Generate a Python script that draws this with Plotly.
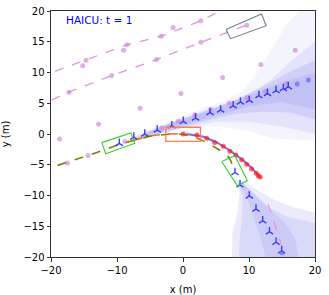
import plotly.graph_objects as go

# ---------------- data ----------------
# prediction fan (upper) layers: polygon x / y
fan_up_outer_x = [-8, -3, 2, 6, 9, 11, 13, 15.5, 17.5, 20, 20, 16, 13.5, 10, 6, 2, -2, -6, -8]
fan_up_outer_y = [-0.6, 1.6, 3.8, 5.3, 7, 9.5, 13, 17.5, 20, 20, -1.1, -0.9, -0.7, 0.5, 1.1, 1.3, 0.4, -0.8, -1.4]
fan_up_mid_x = [-8, -2, 3, 7, 10, 13, 16, 20, 20, 15, 10, 5, 0, -5, -8]
fan_up_mid_y = [-0.7, 1.7, 3.8, 5.2, 6.5, 8.5, 11.5, 15, 0, 1.2, 2, 2, 1.0, -0.3, -1.3]
fan_up_dense_x = [-7, -2, 3, 8, 12, 16, 20, 20, 16, 12, 8, 4, 0, -4, -7]
fan_up_dense_y = [-0.5, 1.7, 3.5, 5.5, 7.7, 10, 12, 2.4, 3.5, 3.6, 3.3, 2.3, 1.1, -0.2, -1.0]
fan_up_core_x = [-6, 0, 5, 10, 15, 20, 20, 15, 10, 5, 0, -6]
fan_up_core_y = [0.2, 2.5, 4.2, 6.2, 8.4, 10, 4, 5.2, 4.5, 3, 1.5, -0.4]

# prediction fan (lower) layers
fan_lo_outer_x = [7.8, 8.6, 8.3, 7.5, 7.4, 20, 20, 17, 14, 11, 9]
fan_lo_outer_y = [-7.5, -9.5, -12.5, -16, -20, -20, -12.8, -12, -10.8, -9, -7.5]
fan_lo_mid_x = [8.3, 9.0, 9.0, 8.6, 8.5, 20, 20, 16, 13, 11, 9.2]
fan_lo_mid_y = [-8, -10, -13, -17, -20, -20, -14.5, -13.5, -12, -10, -8]
fan_lo_core_x = [8.5, 9.8, 10.5, 11.5, 12.5, 17.5, 17, 15.5, 13, 10.5, 9]
fan_lo_core_y = [-8.3, -10.5, -13, -16, -20, -20, -17, -14.5, -12, -9.5, -8]

# other agents' dashed tracks
track1_x = [-19.4, -14.7, -8.5, -3.3, 2.7, 5.6]
track1_y = [10.2, 12.0, 14.5, 15.9, 18.4, 20]
track2_x = [-19.9, -17.3, -10.8, -4.0, 2.7, 9.65]
track2_y = [5.55, 6.8, 9.5, 12.1, 14.9, 17.7]
track3_x = [12.9, 13.9, 15.45]
track3_y = [-11.4, -14.7, -19.8]

# observed agent dots
dots_x = [-15.2, -14.7, -9.0, -8.5, -3.3, -1.5, 2.7,
          -17.3, -10.8, -4.0, 2.7, 9.65,
          -18.7, -12.8, -6.5, -0.3, 6.0, 11.8, 17.0,
          -3.2, -0.7, 1.8, 4.2, 7.0, 9.65, 12.5, 15.7,
          -17.5, -14.4, -8.8]
dots_y = [11.1, 12.0, 13.6, 14.5, 15.9, 17.3, 18.4,
          6.8, 9.5, 12.1, 14.9, 17.7,
          -0.8, 1.6, 4.2, 6.6, 9.2, 11.3, 13.6,
          0.98, 2.06, 3.1, 3.96, 5.0, 5.9, 6.95, 8.15,
          -4.7, -3.5, -1.2]

# histories
olive_x = [-19, -17.5, -14.4, -11.5, -9.7, -7.4, -5, -2, 0, 2, 3.8, 5.5, 6.8, 7.3, 7.7]
olive_y = [-5.1, -4.6, -3.5, -2.4, -1.7, -1.0, -0.35, 0.0, -0.05, -0.6, -1.5, -2.6, -3.6, -4.5, -6.0]
orange_x = [-7.5, -5, -2.5, 0]
orange_y = [-1.0, -0.3, 0.0, 0.05]

# ego plan and ground truth
plan_x = [0.5, 3, 5, 7, 9, 10.5, 11.7]
plan_y = [0, -0.4, -1.3, -2.6, -4.2, -5.6, -7.1]
ego_x = [0.05, 2.1, 3.6, 4.8, 6.1, 7.1, 8.0, 8.9, 9.65, 10.4, 11.1, 11.4, 11.7]
ego_y = [0, -0.16, -0.7, -1.4, -2.0, -2.8, -3.4, -4.2, -4.9, -5.7, -6.4, -6.8, -7.0]

# predicted agent positions
pred_up_x = [-9.65, -7.45, -5.8, -3.9, -1.7, 0.05, 1.9, 4.1, 5.7, 7.6, 8.7, 10.05, 11.5, 12.8, 14.1, 15.2, 15.95]
pred_up_y = [-1.53, -0.5, 0.0, 0.65, 1.35, 2.06, 2.6, 3.5, 3.9, 4.6, 5.2, 5.5, 6.25, 6.6, 7.06, 7.4, 7.7]
pred_lo_x = [7.88, 8.64, 10.05, 11.06, 12.07, 13.1, 14.1, 14.95]
pred_lo_y = [-6.26, -8.27, -10.07, -12.2, -14.1, -15.9, -17.6, -19.0]
blue_dot_x = [17.3, 19.0, 15.0]
blue_dot_y = [8.15, 8.8, -19.3]

# boxes (closed corner lists)
ego_box_x = [-2.6, 2.65, 2.65, -2.6, -2.6]
ego_box_y = [1.1, 1.1, -1.2, -1.2, 1.1]
green1_x = [-12.3, -7.9, -7.3, -11.7, -12.3]
green1_y = [-1.4, 0.16, -1.5, -3.2, -1.4]
green2_x = [5.86, 7.88, 9.74, 8.23, 5.86]
green2_y = [-4.47, -3.54, -7.6, -8.43, -4.47]
gray_x = [6.5, 11.9, 12.6, 7.2, 6.5]
gray_y = [17.0, 19.5, 17.6, 15.5, 17.0]

x_ticks = [-20, -10, 0, 10, 20]
y_ticks = [-20, -15, -10, -5, 0, 5, 10, 15, 20]

# ---------------- figure ----------------
fig = go.Figure()

def poly(xs, ys, alpha):
    fig.add_trace(go.Scatter(x=xs + [xs[0]], y=ys + [ys[0]], mode="lines", fill="toself",
                             fillcolor=f"rgba(110,110,235,{alpha})", line=dict(width=0),
                             hoverinfo="skip", showlegend=False))

poly(fan_up_outer_x, fan_up_outer_y, 0.08)
poly(fan_up_mid_x, fan_up_mid_y, 0.12)
poly(fan_up_dense_x, fan_up_dense_y, 0.17)
poly(fan_up_core_x, fan_up_core_y, 0.14)
poly(fan_lo_outer_x, fan_lo_outer_y, 0.14)
poly(fan_lo_mid_x, fan_lo_mid_y, 0.14)
poly(fan_lo_core_x, fan_lo_core_y, 0.12)

def line(xs, ys, color, width, dash="solid"):
    fig.add_trace(go.Scatter(x=xs, y=ys, mode="lines", line=dict(color=color, width=width, dash=dash),
                             showlegend=False, hoverinfo="skip"))

line(track1_x, track1_y, "rgba(220,140,220,0.9)", 1.3, "dash")
line(track2_x, track2_y, "rgba(220,140,220,0.9)", 1.3, "dash")
line(track3_x, track3_y, "rgba(240,140,200,0.85)", 1.3, "dash")

fig.add_trace(go.Scatter(x=dots_x, y=dots_y, mode="markers",
                         marker=dict(color="rgba(205,130,215,0.65)", size=5, line=dict(width=0)),
                         showlegend=False))

line(olive_x, olive_y, "#808000", 1.6, "dash")
line(orange_x, orange_y, "#f07020", 1.6, "dash")
line(plan_x, plan_y, "#7b68ee", 2)

fig.add_trace(go.Scatter(x=ego_x, y=ego_y, mode="markers",
                         marker=dict(color="rgba(255,30,30,0.7)", size=5, line=dict(width=0)),
                         showlegend=False))

for xs, ys in [(pred_up_x, pred_up_y), (pred_lo_x, pred_lo_y)]:
    fig.add_trace(go.Scatter(x=xs, y=ys, mode="markers",
                             marker=dict(symbol="y-up", size=6, color="blue",
                                         line=dict(color="rgba(40,40,255,0.9)", width=1.4)),
                             showlegend=False))
fig.add_trace(go.Scatter(x=blue_dot_x, y=blue_dot_y, mode="markers",
                         marker=dict(color="rgba(90,90,240,0.6)", size=5, line=dict(width=0)),
                         showlegend=False))

line(ego_box_x, ego_box_y, "#ff7f50", 1.3)
line(green1_x, green1_y, "#32cd32", 1.1)
line(green2_x, green2_y, "#32cd32", 1.1)
line(gray_x, gray_y, "#708090", 1.1)

fig.add_annotation(x=-18.0, y=18.6, text="HAICU: t = 1", showarrow=False, xanchor="left", yanchor="middle",
                   font=dict(color="blue", size=10.5, family="DejaVu Sans"))

axis_common = dict(showline=True, mirror=True, linecolor="#333", linewidth=1, ticks="outside",
                   ticklen=3.5, tickcolor="#333", showgrid=False, zeroline=False, automargin=False,
                   tickfont=dict(size=10, family="DejaVu Sans", color="black"),
                   title_font=dict(size=10, family="DejaVu Sans", color="black"))
fig.update_xaxes(range=[-20, 20], tickvals=x_ticks, ticktext=[f"{v}".replace("-", "\u2212") for v in x_ticks],
                 title_text="x (m)", **axis_common)
fig.update_yaxes(range=[-20, 20], tickvals=y_ticks, ticktext=[f"{v}".replace("-", "\u2212") for v in y_ticks],
                 title_text="y (m)", **axis_common)

fig.update_layout(width=329, height=295, margin=dict(l=51, r=14, t=11, b=38),
                  plot_bgcolor="white", paper_bgcolor="white", showlegend=False)

# remove the browser's default 8px body margin so the figure sits at the window origin
fig.write_html("out.html", config={"displayModeBar": False},
               post_script="document.body.style.margin='0px';")
